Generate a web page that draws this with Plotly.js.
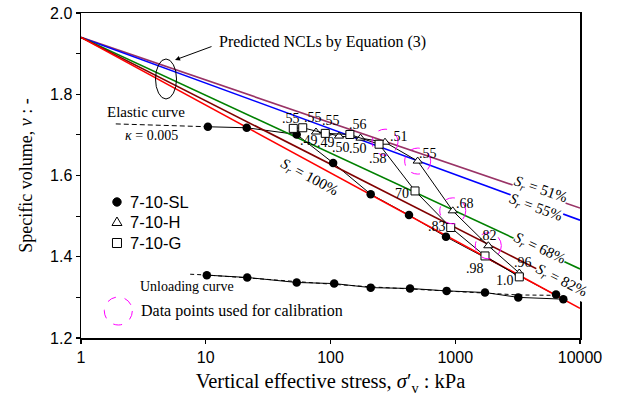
<!DOCTYPE html>
<html><head><meta charset="utf-8">
<script src="https://cdn.plot.ly/plotly-3.0.1.min.js"></script>
<style>html,body{margin:0;padding:0;background:#fff}#chart{width:621px;height:401px}</style>
</head><body><div id="chart"></div>
<script>
// Predicted NCLs (Equation (3)) - end values
const nclStress = [1, 10000];
const nclV51 = [1.94, 1.52];
const nclV55 = [1.94, 1.49];
const nclV68 = [1.94, 1.37];
const nclV82 = [1.94, 1.316];
const nclV100 = [1.94, 1.273];
const nclLabels = ['51%', '55%', '68%', '82%', '100%'];

// 7-10-SL (loading then unloading)
const slStress = [10.4, 21.3, 53.6, 105, 210, 426, 843, 6425, 7350, 3200, 1731, 853, 434, 210, 107, 53.6, 21.5, 10.2];
const slV = [1.720, 1.7175, 1.701, 1.631, 1.554, 1.5025, 1.449, 1.307, 1.2956, 1.300, 1.312, 1.316, 1.322, 1.324, 1.334, 1.3367, 1.349, 1.3547];

// 7-10-H
const hStress = [76.5, 93.2, 117, 174, 273.5, 500, 955, 1841, 3261];
const hV = [1.707, 1.7044, 1.697, 1.692, 1.682, 1.6355, 1.513, 1.427, 1.360];
const hSr = ['.49', '.49', '.50', '.50', '.51', '.55', '.68', '.82', '.96'];

// 7-10-G
const gStress = [50.3, 59.9, 90.8, 143, 245, 476, 920, 1732, 3261];
const gV = [1.716, 1.7175, 1.7037, 1.701, 1.677, 1.562, 1.472, 1.402, 1.3505];
const gSr = ['.55', '.55', '.55', '.56', '.58', '70', '.83', '.98', '1.0'];

// Elastic curve and fitted unloading curve
const elasticStress = [1.9, 10.4];
const elasticV = [1.727, 1.720];
const unloadStress = [7.5, 10.2, 21.5, 53.6, 107, 210, 434, 853, 1731, 3200, 6425];
const unloadV = [1.357, 1.355, 1.348, 1.338, 1.332, 1.326, 1.321, 1.316, 1.311, 1.306, 1.305];

// Data points used for calibration (7-10-H)
const calibStress = [273.5, 500, 955, 1841];
const calibV = [1.682, 1.6355, 1.513, 1.427];

const xTicks = [1, 10, 100, 1000, 10000];
const xTickText = ['1', '10', '100', '1000', '10000'];
const xRange = [0, 4];      // log10 range
const yRange = [1.2, 2.0];

// ---- styling / layout ----
const SERIF = 'Liberation Serif, Times New Roman, serif';
const SANS = 'Liberation Sans, Arial, sans-serif';
const nclColors = ['#993366', '#0000FF', '#008000', '#800000', '#FF0000'];
const nclVs = [nclV51, nclV55, nclV68, nclV82, nclV100];

const traces = [];
traces.push({x: slStress, y: slV, mode: 'lines', line: {color: '#000', width: 1}, showlegend: false, hoverinfo: 'skip'});
nclVs.forEach((v, i) => traces.push({x: nclStress, y: v, mode: 'lines', line: {color: nclColors[i], width: 1.6}, showlegend: false}));
traces.push({x: elasticStress, y: elasticV, mode: 'lines', line: {color: '#000', width: 1, dash: '5px,3px'}, showlegend: false});
traces.push({x: unloadStress, y: unloadV, mode: 'lines', line: {color: '#000', width: 1, dash: '4px,3px'}, showlegend: false});
traces.push({x: slStress, y: slV, mode: 'markers', marker: {symbol: 'circle', size: 8.5, color: '#000'}, name: '7-10-SL', showlegend: false});
traces.push({x: hStress, y: hV, mode: 'lines+markers', line: {color: '#000', width: 1}, marker: {symbol: 'triangle-up', size: 8, color: '#fff', line: {color: '#000', width: 1}}, name: '7-10-H', showlegend: false});
traces.push({x: gStress, y: gV, mode: 'lines+markers', line: {color: '#000', width: 1}, marker: {symbol: 'square', size: 8, color: '#fff', line: {color: '#000', width: 1}}, name: '7-10-G', showlegend: false});

const gOffX = [-2, 10, 6, 8.5, -1, -13, -14, -10, -14];
const gOffY = [-10, -10, -13, -10, 14, 2.6, -0.6, 12.6, 3.3];
const hOffX = [-6.5, -1, 1.5, -2.5, 14, 10, 12, 0, 4];
const hOffY = [8, 9.5, 11, 10, -5.3, -7.7, -7.4, -10.7, -11];

const ann = [];
const labFont = {family: SERIF, size: 14, color: '#000'};
gSr.forEach((t, i) => ann.push({xref: 'x', yref: 'y', x: Math.log10(gStress[i]), y: gV[i], text: t, showarrow: false, xanchor: 'center', yanchor: 'middle', xshift: gOffX[i], yshift: -gOffY[i], font: labFont}));
hSr.forEach((t, i) => ann.push({xref: 'x', yref: 'y', x: Math.log10(hStress[i]), y: hV[i], text: t, showarrow: false, xanchor: 'center', yanchor: 'middle', xshift: hOffX[i], yshift: -hOffY[i], font: labFont}));

// Sr labels on NCLs
const srPos = [[0.9212, 0.4554, 19], [0.9114, 0.3991, 20], [0.9198, 0.2738, 25], [0.9633, 0.176, 27], [0.4589, 0.4923, 28]];
nclLabels.forEach((t, i) => ann.push({
  xref: 'paper', yref: 'paper', x: srPos[i][0], y: srPos[i][1], xanchor: 'center', yanchor: 'middle', textangle: srPos[i][2],
  text: '<i>S</i><sub><i>r</i></sub> = ' + t, showarrow: false, font: {family: SERIF, size: 15, color: '#000'},
  bgcolor: i < 4 ? '#fff' : 'rgba(0,0,0,0)', borderpad: 0
}));

const txt = (x, y, t, size, xa) => ({xref: 'paper', yref: 'paper', x: x, y: y, text: t, showarrow: false, xanchor: xa || 'center', yanchor: 'middle', font: {family: SERIF, size: size, color: '#000'}});
ann.push(txt(0.2725, 0.9108, 'Predicted NCLs by Equation (3)', 16, 'left'));
ann.push({xref: 'paper', yref: 'paper', x: 0.1884, y: 0.8554, text: '', showarrow: true, ax: 38, ay: -14, arrowhead: 2, arrowsize: 1, arrowwidth: 1, arrowcolor: '#000'});
ann.push(txt(0.1303, 0.6945, 'Elastic curve', 15));
ann.push(txt(0.1413, 0.6246, '<i>κ</i> = 0.005', 14));
ann.push(txt(0.2118, 0.1600, 'Unloading curve', 14));
ann.push(txt(0.1162, 0.0831, 'Data points used for calibration', 16, 'left'));
const legNames = ['7-10-SL', '7-10-H', '7-10-G'];
const legY = [0.4185, 0.3569, 0.2923];
legNames.forEach((n, i) => ann.push({xref: 'paper', yref: 'paper', x: 0.0942, y: legY[i], text: n, showarrow: false, xanchor: 'left', yanchor: 'middle', font: {family: SANS, size: 16.5, color: '#000'}}));

const shapes = [];
// calibration circles: anchored at the data points, converted to the axis fraction of the log / linear scales
calibStress.forEach((s, i) => shapes.push({
  type: 'circle', xref: 'paper', yref: 'paper', xsizemode: 'pixel', ysizemode: 'pixel',
  xanchor: (Math.log10(s) - xRange[0]) / (xRange[1] - xRange[0]),
  yanchor: (calibV[i] - yRange[0]) / (yRange[1] - yRange[0]),
  x0: -13, x1: 13, y0: -13, y1: 13, line: {color: '#FF00FF', width: 1, dash: 'dash'}}));
shapes.push({type: 'circle', xref: 'paper', yref: 'paper', xsizemode: 'pixel', ysizemode: 'pixel', xanchor: 0.0748, yanchor: 0.0831, x0: -14, x1: 14, y0: -14, y1: 14, line: {color: '#FF00FF', width: 1, dash: 'dash'}});
shapes.push({type: 'circle', xref: 'paper', yref: 'paper', x0: 0.1493, x1: 0.1914, y0: 0.7354, y1: 0.8585, line: {color: '#000', width: 1}});
// legend symbols
shapes.push({type: 'circle', xref: 'paper', yref: 'paper', xsizemode: 'pixel', ysizemode: 'pixel', xanchor: 0.0721, yanchor: legY[0], x0: -4.2, x1: 4.2, y0: -4.2, y1: 4.2, fillcolor: '#000', line: {color: '#000', width: 1}});
shapes.push({type: 'path', xref: 'paper', yref: 'paper', xsizemode: 'pixel', ysizemode: 'pixel', xanchor: 0.0721, yanchor: legY[1], path: 'M -5 -3.5 L 5 -3.5 L 0 5 Z', fillcolor: '#fff', line: {color: '#000', width: 1}});
shapes.push({type: 'rect', xref: 'paper', yref: 'paper', xsizemode: 'pixel', ysizemode: 'pixel', xanchor: 0.0721, yanchor: legY[2], x0: -4.5, x1: 4.5, y0: -4.5, y1: 4.5, fillcolor: '#fff', line: {color: '#000', width: 1}});

const layout = {
  width: 621, height: 401,
  margin: {l: 81, r: 41, t: 13, b: 63},
  paper_bgcolor: '#fff', plot_bgcolor: '#fff',
  showlegend: false,
  xaxis: {
    type: 'log', range: xRange, tickvals: xTicks, ticktext: xTickText,
    showgrid: false, zeroline: false, showline: true, mirror: true, linecolor: '#000', linewidth: 1.5,
    ticks: 'outside', ticklen: 4, tickwidth: 1.2, tickcolor: '#000',
    tickfont: {family: SANS, size: 16, color: '#000'},
    title: {text: 'Vertical effective stress, <i>σ</i>′<sub>v</sub> : kPa', font: {family: SERIF, size: 20.5, color: '#000'}, standoff: 9}
  },
  yaxis: {
    range: yRange, dtick: 0.2, tick0: 1.2, tickformat: '.1f',
    showgrid: false, zeroline: false, showline: true, mirror: true, linecolor: '#000', linewidth: 1.5,
    ticks: 'outside', ticklen: 4, tickwidth: 1.2, tickcolor: '#000',
    minor: {dtick: 0.1, ticks: 'outside', ticklen: 4, tickwidth: 1.2, tickcolor: '#000', showgrid: false},
    tickfont: {family: SANS, size: 16, color: '#000'},
    title: {text: 'Specific volume, <i>v</i> : -', font: {family: SERIF, size: 18, color: '#000'}, standoff: 12}
  },
  annotations: ann,
  shapes: shapes
};

Plotly.newPlot('chart', traces, layout, {staticPlot: true, displayModeBar: false});
</script>
</body></html>
